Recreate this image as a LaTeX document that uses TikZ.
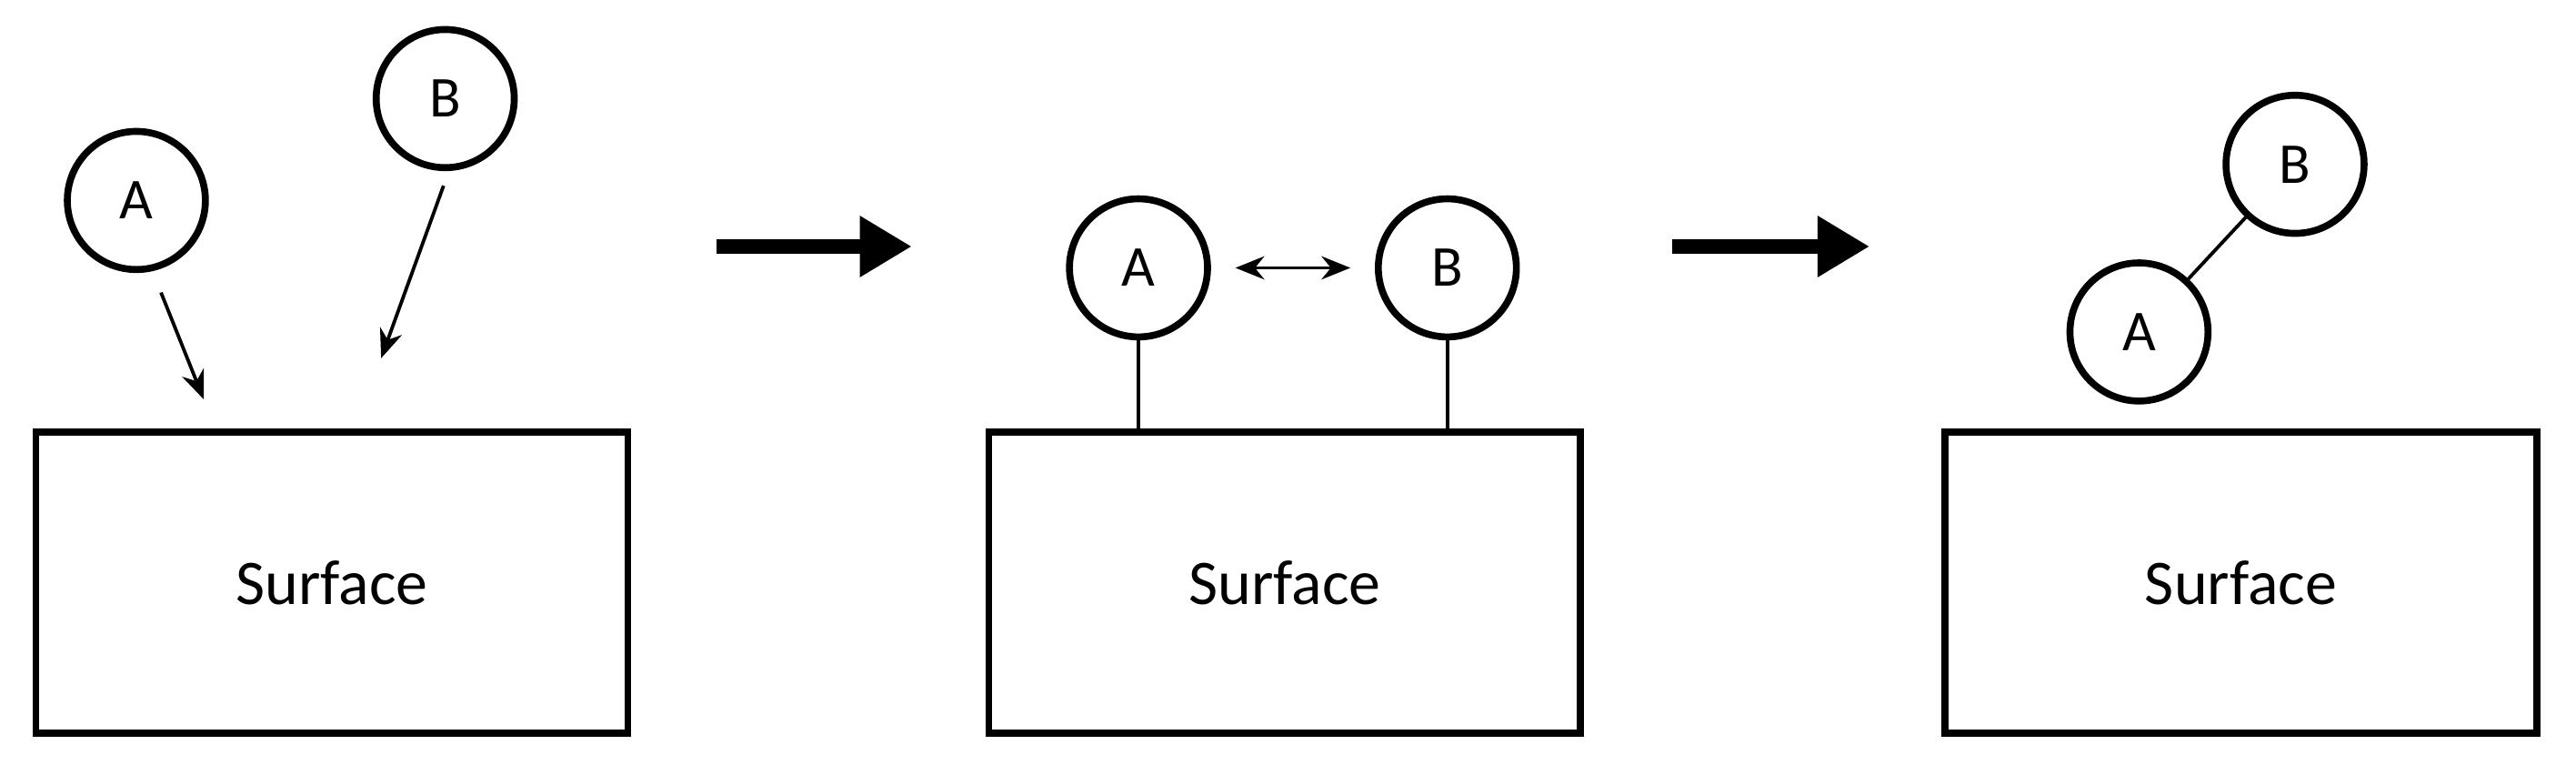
\documentclass[tikz,border=0pt]{standalone}
\usepackage{fontspec}
\setmainfont{Carlito}
\usetikzlibrary{arrows.meta}
\begin{document}
\begin{tikzpicture}[x=0.01cm,y=-0.01cm,
  box/.style={draw,line width=1.2pt,minimum width=3.6cm,minimum height=1.83cm,inner sep=0,font=\fontsize{11pt}{13pt}\selectfont},
  ball/.style={draw,circle,line width=1.2pt,minimum size=0.84cm,inner sep=0,font=\fontsize{10pt}{12pt}\selectfont},
  thin/.style={line width=0.6pt},
  small/.style={thin,-{Stealth[length=5pt,width=4pt]}},
  big/.style={line width=2.4pt,-{Triangle[length=9pt,width=10pt]}}]
\useasboundingbox (0,0) rectangle (1568,465);
% panel 1
\node[box] (s1) at (202,354.5) {Surface};
\node[ball] (a1) at (83,122) {A};
\node[ball] (b1) at (271,60) {B};
\coordinate (a1s) at (98,178); \coordinate (a1e) at (124,243);
\coordinate (b1s) at (270,113); \coordinate (b1e) at (232,218);
\draw[small] (a1s) -- (a1e);
\draw[small] (b1s) -- (b1e);
% arrow
\coordinate (g1s) at (436,150); \coordinate (g1e) at (555,150);
\draw[big] (g1s) -- (g1e);
% panel 2
\node[box] (s2) at (782,354.5) {Surface};
\node[ball] (a2) at (693,163) {A};
\node[ball] (b2) at (881,163) {B};
\draw[thin] (a2.south) -- (a2.south |- s2.north);
\draw[thin] (b2.south) -- (b2.south |- s2.north);
\coordinate (d1) at (752,163); \coordinate (d2) at (822,163);
\draw[thin,{Stealth[length=5pt,width=4pt]}-{Stealth[length=5pt,width=4pt]}] (d1) -- (d2);
% arrow
\coordinate (g2s) at (1018,150); \coordinate (g2e) at (1138,150);
\draw[big] (g2s) -- (g2e);
% panel 3
\node[box] (s3) at (1364,354.5) {Surface};
\node[ball] (a3) at (1302,202) {A};
\node[ball] (b3) at (1397,100) {B};
\draw[thin] (a3) -- (b3);
\end{tikzpicture}
\end{document}
